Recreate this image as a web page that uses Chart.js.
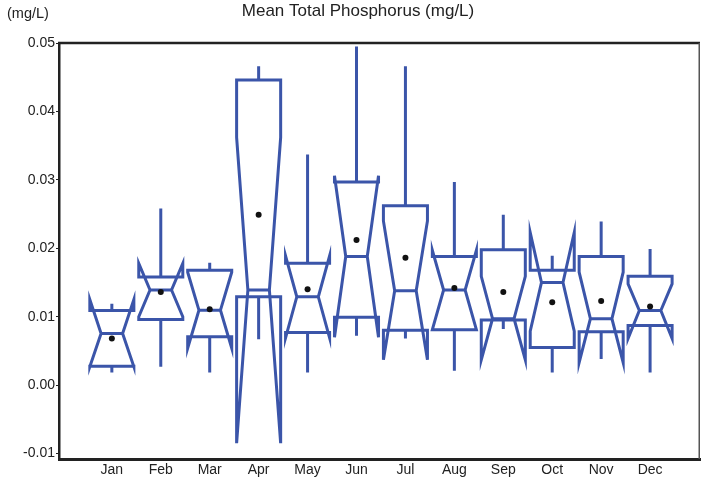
<!DOCTYPE html>
<html lang="en">
<head>
    <meta charset="UTF-8">
    <title>Mean Total Phosphorus</title>
    <style>
      html, body { margin: 0; padding: 0; background: #fff; overflow: hidden; }
      #wrap { width: 701px; height: 481px; overflow: hidden; }
    </style>
</head>
<body>
<div id="wrap"><canvas id="boxChart" width="703" height="481"></canvas></div>

<script src="https://cdn.jsdelivr.net/npm/chart.js@4/dist/chart.umd.min.js"></script>
<script>
  const MONTHS = ['Jan', 'Feb', 'Mar', 'Apr', 'May', 'Jun', 'Jul', 'Aug', 'Sep', 'Oct', 'Nov', 'Dec'];
  const Y_TICKS = [-0.01, 0.00, 0.01, 0.02, 0.03, 0.04, 0.05];

  // box plot statistics (mg/L)
  const whiskerLow  = [0.00185, 0.00267, 0.00185, 0.0067, 0.00185, 0.0072, 0.0068, 0.0021, 0.0082, 0.00185, 0.0038, 0.00185];
  const q1          = [0.00277, 0.0096, 0.00705, 0.0129, 0.0077, 0.0099, 0.0080, 0.0081, 0.0095, 0.0055, 0.0078, 0.0087];
  const median      = [0.00755, 0.0139, 0.01095, 0.0139, 0.0129, 0.0188, 0.0138, 0.0139, 0.0097, 0.0150, 0.0097, 0.0109];
  const q3          = [0.0109, 0.0158, 0.0168, 0.0446, 0.0178, 0.0297, 0.0262, 0.0188, 0.0198, 0.0168, 0.0188, 0.0159];
  const whiskerHigh = [0.0119, 0.0258, 0.0179, 0.0466, 0.0337, 0.0495, 0.0466, 0.0297, 0.0249, 0.0189, 0.0239, 0.0199];
  const notchLow    = [0.0027, 0.0100, 0.0054, -0.0085, 0.0069, 0.0070, 0.0037, 0.0081, 0.0037, 0.0079, 0.0033, 0.0068];
  const notchHigh   = [0.0125, 0.0178, 0.0165, 0.0362, 0.0189, 0.0306, 0.0240, 0.0197, 0.0159, 0.0223, 0.0165, 0.0148];
  const means       = [0.0068, 0.0136, 0.0111, 0.0249, 0.0140, 0.0212, 0.0186, 0.0142, 0.0136, 0.0121, 0.0123, 0.0115];

  const BLUE = '#3b55a9';
  const FONT = '"Liberation Sans", Arial, sans-serif';

  // notched boxes, drawn through the chart's own scales
  const notchedBoxes = {
    id: 'notchedBoxes',
    beforeDatasetsDraw(chart) {
      const {ctx, chartArea, scales: {x, y}} = chart;
      ctx.save();
      ctx.beginPath();
      ctx.rect(chartArea.left, chartArea.top, chartArea.right - chartArea.left, chartArea.bottom - chartArea.top);
      ctx.clip();
      ctx.strokeStyle = BLUE;
      ctx.lineWidth = 3;
      ctx.lineJoin = 'miter';
      MONTHS.forEach((m, i) => {
        const c = x.getPixelForValue(i + 1);
        const xL = x.getPixelForValue(i + 1 - 0.45), xR = x.getPixelForValue(i + 1 + 0.45);
        const nL = x.getPixelForValue(i + 1 - 0.22), nR = x.getPixelForValue(i + 1 + 0.22);
        const yq1 = y.getPixelForValue(q1[i]), yq3 = y.getPixelForValue(q3[i]);
        const ym = y.getPixelForValue(median[i]);
        const ylo = y.getPixelForValue(notchLow[i]), yhi = y.getPixelForValue(notchHigh[i]);

        ctx.beginPath();
        ctx.moveTo(xL, yq1);
        ctx.lineTo(xL, ylo);
        ctx.lineTo(nL, ym);
        ctx.lineTo(xL, yhi);
        ctx.lineTo(xL, yq3);
        ctx.lineTo(xR, yq3);
        ctx.lineTo(xR, yhi);
        ctx.lineTo(nR, ym);
        ctx.lineTo(xR, ylo);
        ctx.lineTo(xR, yq1);
        ctx.closePath();
        ctx.stroke();

        ctx.beginPath();
        ctx.moveTo(nL, ym);
        ctx.lineTo(nR, ym);
        ctx.moveTo(c, yq3);
        ctx.lineTo(c, y.getPixelForValue(whiskerHigh[i]));
        ctx.moveTo(c, yq1);
        ctx.lineTo(c, y.getPixelForValue(whiskerLow[i]));
        ctx.stroke();
      });
      ctx.restore();
    },
    afterDraw(chart) {
      const {ctx, chartArea} = chart;
      ctx.save();
      // top and right frame
      ctx.strokeStyle = '#222';
      ctx.lineWidth = 2.5;
      ctx.beginPath();
      ctx.moveTo(chartArea.left - 1, chartArea.top);
      ctx.lineTo(chartArea.right, chartArea.top);
      ctx.stroke();
      ctx.strokeStyle = '#555';
      ctx.lineWidth = 1.5;
      ctx.beginPath();
      ctx.moveTo(chartArea.right - 0.75, chartArea.top);
      ctx.lineTo(chartArea.right - 0.75, chartArea.bottom);
      ctx.stroke();

      ctx.fillStyle = '#222';
      ctx.font = '17px ' + FONT;
      ctx.textBaseline = 'alphabetic';
      ctx.textAlign = 'center';
      ctx.fillText('Mean Total Phosphorus (mg/L)', 358, 16);
      ctx.textAlign = 'left';
      ctx.font = '14.5px ' + FONT;
      ctx.fillText('(mg/L)', 7, 18);
      ctx.restore();
    }
  };

  new Chart(document.getElementById('boxChart'), {
    type: 'scatter',
    data: {
      datasets: [{
        label: 'Mean',
        data: means.map((v, i) => ({x: i + 1, y: v})),
        pointRadius: 3,
        pointHoverRadius: 3,
        pointBackgroundColor: '#111',
        pointBorderWidth: 0,
        borderColor: '#111'
      }]
    },
    options: {
      responsive: false,
      animation: false,
      events: [],
      layout: {padding: {top: 43, right: 1, left: 0, bottom: 0}},
      plugins: {
        legend: {display: false},
        title: {display: false},
        tooltip: {enabled: false}
      },
      scales: {
        x: {
          type: 'linear',
          min: -0.08,
          max: 13.02,
          afterBuildTicks: (s) => { s.ticks = MONTHS.map((m, i) => ({value: i + 1})); },
          afterFit: (s) => { s.height = 22; },
          grid: {display: false, drawTicks: false},
          border: {display: true, color: '#222', width: 3},
          ticks: {
            padding: 3,
            maxRotation: 0,
            autoSkip: false,
            color: '#222',
            font: {family: FONT, size: 14},
            callback: (v) => MONTHS[v - 1] || ''
          }
        },
        y: {
          type: 'linear',
          min: -0.0108,
          max: 0.05,
          afterBuildTicks: (s) => { s.ticks = Y_TICKS.map(v => ({value: v})); },
          afterFit: (s) => { s.width = 59; },
          grid: {drawOnChartArea: false, drawTicks: true, tickLength: 3, color: '#222'},
          border: {display: true, color: '#222', width: 2.5},
          ticks: {
            padding: 1,
            color: '#222',
            font: {family: FONT, size: 14},
            callback: (v) => v.toFixed(2)
          }
        }
      }
    },
    plugins: [notchedBoxes]
  });
</script>
</body>
</html>
